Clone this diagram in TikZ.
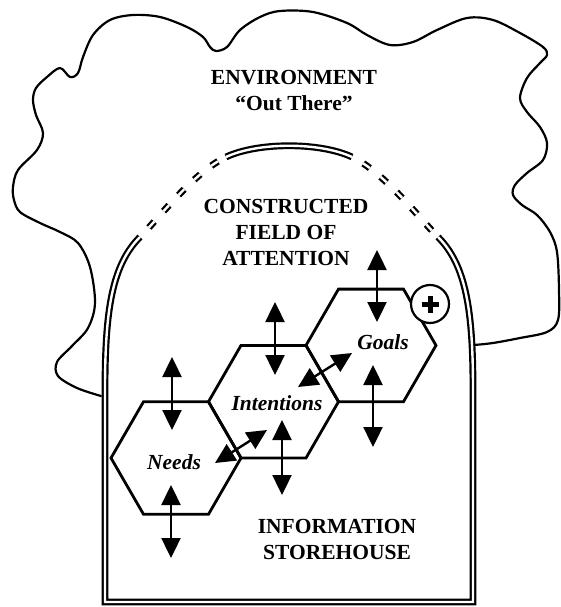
\documentclass[tikz,border=0pt]{standalone}
\usepackage{fontspec}
\setmainfont{Liberation Serif}
\usetikzlibrary{arrows.meta,shapes.geometric}
\begin{document}
\begin{tikzpicture}[x=1pt,y=-1pt,
  hexcell/.style={draw, regular polygon, regular polygon sides=6, minimum size=130pt,
    inner sep=0pt, outer sep=0pt, line width=2.8pt, line join=miter},
  caption/.style={font=\fontsize{21.5}{26}\selectfont\bfseries, align=center, inner sep=0pt},
  cell label/.style={font=\fontsize{21.5}{25}\selectfont\bfseries\itshape, inner sep=0pt},
  flow/.style={line width=2.4pt, {Triangle[width=19pt,length=20pt]}-{Triangle[width=19pt,length=20pt]}},
  rim/.style={line width=2.2pt, double distance=2.4pt, double=white},
  rimdash/.style={rim, dash pattern=on 8pt off 14pt, dash phase=9pt},
  border/.style={line width=2.2pt, line join=round, line cap=round},
  badge/.style={draw, circle, fill=white, minimum size=38pt, inner sep=0pt, line width=2.2pt}
]
\useasboundingbox (0,0) rectangle (561,607);

% environment outline
\draw[border] plot[smooth, tension=0.55] coordinates {
  (101,396) (77,388) (58,376) (57,362) (72,346) (88,328) (95,303) (90,267)
  (78,243) (60,232) (40,223) (20,212) (14,200) (13,187) (18,170) (37,150)
  (43,133) (36,115) (33,100) (36,88) (47,77) (60,68) (70,77) (78,73) (83,57)
  (93,35) (110,20) (133,15) (160,17) (187,27) (203,37) (210,47) (216,51)
  (227,47) (240,30) (260,17) (280,11) (313,12) (347,23) (367,35) (390,45)
  (413,42) (437,30) (467,18) (493,20) (520,33) (543,47) (547,55) (540,63)
  (527,78) (520,98) (527,112) (540,127) (547,143) (543,160) (527,173)
  (515,185) (513,195) (522,205) (537,215) (550,232) (557,252) (559,290)
  (558,320) (547,332) (520,338) (493,343) (474,345)};

% field of attention / storehouse rim
\draw[rim, line join=miter] (438,237) .. controls (466,265) and (473,310) .. (473,390)
  -- (473,602) -- (105,602) -- (105,390) .. controls (105,310) and (112,265) .. (140,237);
\draw[rimdash] (140,237) .. controls (158,219) and (194,172) .. (226,157);
\draw[rim] (226,157) .. controls (258,142) and (320,142) .. (352,157);
\draw[rimdash] (352,157) .. controls (384,172) and (420,219) .. (438,237);

% captions
\node[caption] (env) at (294,91) {ENVIRONMENT\\\textquotedblleft Out There\textquotedblright};
\node[caption] (field) at (286,232.5) {CONSTRUCTED\\FIELD OF\\ATTENTION};
\node[caption] (store) at (337,539.5) {INFORMATION\\STOREHOUSE};

% honeycomb cells
\node[hexcell] (needs) at (176,458) {};
\node[hexcell] (intentions) at (273.5,401.7) {};
\node[hexcell] (goals) at (371,345.4) {};
\node[cell label] (needslbl) at (174,462) {Needs};
\node[cell label] (intlbl) at (277,403) {Intentions};
\node[cell label] (goalslbl) at (383,342) {Goals};

% arrow end points
\coordinate (n1) at (172,357);  \coordinate (n2) at (172,430);
\coordinate (n3) at (171,485);  \coordinate (n4) at (171,558);
\coordinate (i1) at (275,302);  \coordinate (i2) at (275,375);
\coordinate (i3) at (282,420);  \coordinate (i4) at (282,495);
\coordinate (g1) at (377,250);  \coordinate (g2) at (377,322);
\coordinate (g3) at (373,365);  \coordinate (g4) at (373,447);
\coordinate (ni1) at (215,463); \coordinate (ni2) at (267,430);
\coordinate (ig1) at (298,387); \coordinate (ig2) at (352,353);

\draw[flow] (n1) -- (n2);
\draw[flow] (n3) -- (n4);
\draw[flow] (i1) -- (i2);
\draw[flow] (i3) -- (i4);
\draw[flow] (g1) -- (g2);
\draw[flow] (g3) -- (g4);
\draw[flow] (ni1) -- (ni2);
\draw[flow] (ig1) -- (ig2);

% plus badge
\node[badge] (plus) at (430,304) {};
\draw[line width=5pt] ([xshift=-8.5pt]plus.center) -- ([xshift=8.5pt]plus.center);
\draw[line width=5pt] ([yshift=-8.5pt]plus.center) -- ([yshift=8.5pt]plus.center);
\end{tikzpicture}
\end{document}
